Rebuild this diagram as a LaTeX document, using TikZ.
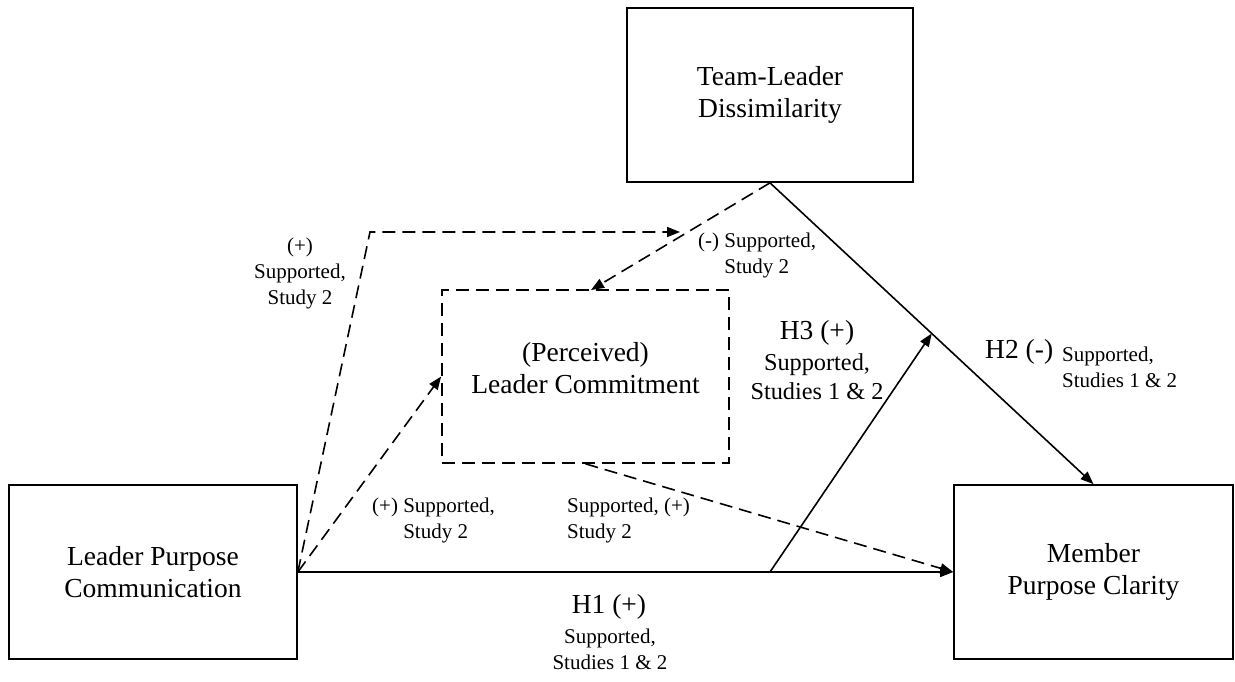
\documentclass[tikz,border=0pt]{standalone}
\usepackage{fontspec}
\setmainfont{Liberation Serif}
\usetikzlibrary{arrows.meta,calc}
\newcommand\fbig{\fontsize{27.5}{32}\selectfont}
\newcommand\fmid{\fontsize{24.3}{29}\selectfont}
\newcommand\fsmall{\fontsize{21}{26}\selectfont}
\begin{document}
\begin{tikzpicture}[x=1pt,y=-1pt,
  box/.style={draw,line width=1.7pt,align=center,font=\fbig,inner sep=0pt},
  dbox/.style={box,dash pattern=on 13pt off 7pt},
  conn/.style={line width=1.6pt,-{Triangle[length=13pt,width=10pt]}},
  dconn/.style={conn,dash pattern=on 13pt off 7pt},
  lab/.style={font=\fsmall,inner sep=0pt},
  mlab/.style={font=\fmid,inner sep=0pt,align=center},
  blab/.style={font=\fbig,inner sep=0pt}]
\fill[white] (0,0) rectangle (1235,681);
\useasboundingbox (0,0) rectangle (1235,681);
% boxes
\node[box,minimum width=288pt,minimum height=174pt] (lead) at (153,572) {Leader Purpose\\Communication};
\node[box,minimum width=279pt,minimum height=174pt] (mem) at (1093.5,572) {Member\\Purpose Clarity};
\node[box,minimum width=286pt,minimum height=174pt] (team) at (770,95) {Team-Leader\\Dissimilarity};
\node[dbox,minimum width=287pt,minimum height=173pt] (perc) at (585.5,376.5) {};
\node[blab,align=center] (percT) at ($(perc.center)+(0,-8)$) {(Perceived)\\Leader Commitment};
% coordinates
\coordinate (pn) at (591,290);
\coordinate (corner) at (370,232);
\coordinate (modtip) at (680,232);
\coordinate (h3s) at (team.south |- lead.east);
\coordinate (h3e) at ($(team.south)!0.5!(mem.north)$);
% connectors
\draw[conn] (lead.east) -- (mem.west);
\draw[conn] (team.south) -- (mem.north);
\draw[conn] (h3s) -- (h3e);
\draw[dconn] (team.south) -- (pn);
\draw[dconn] (lead.east) -- (perc.west);
\draw[dconn] (perc.south) -- (mem.west);
\draw[dconn] (lead.east) -- (corner) -- (modtip);
% labels
\node[lab,align=center] (l1) at (300,273) {(+)\\Supported,\\Study 2};
\node[lab,align=left,anchor=west] (l2) at (698,255) {(-) Supported,\\\hphantom{(-) }Study 2};
\node[lab,align=left,anchor=west] (l3) at (372,520) {(+) Supported,\\\hphantom{(+) }Study 2};
\node[lab,align=left,anchor=west] (l4) at (567,520) {Supported, (+)\\Study 2};
\node[blab] (h3a) at (817,333) {H3 (+)};
\node[mlab] (h3b) at (817,377) {Supported,\\Studies 1 \& 2};
\node[blab,anchor=west] (h2a) at (985,352) {H2 (-)};
\node[lab,align=left,anchor=west] (h2b) at (1062,367) {Supported,\\Studies 1 \& 2};
\node[blab] (h1a) at (609,607) {H1 (+)};
\node[lab,align=center] (h1b) at (610,649) {Supported,\\Studies 1 \& 2};
\end{tikzpicture}
\end{document}
